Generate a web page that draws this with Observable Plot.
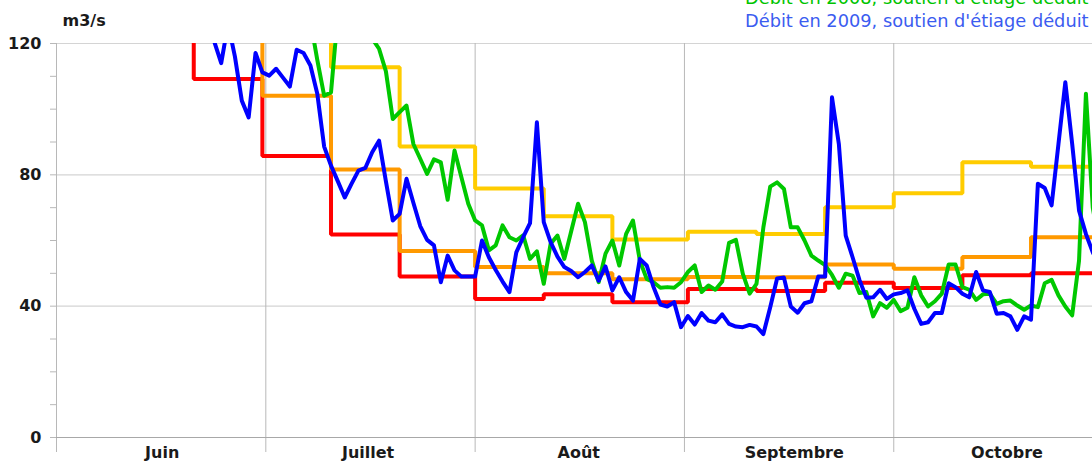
<!DOCTYPE html>
<html>
<head>
<meta charset="utf-8">
<script src="https://cdn.jsdelivr.net/npm/d3@7"></script>
<script src="https://cdn.jsdelivr.net/npm/@observablehq/plot@0.6"></script>
<style>
  html, body { margin: 0; padding: 0; background: #fff; }
  #wrap { position: relative; width: 1092px; height: 467px; overflow: hidden; }
  #chart { position: absolute; left: 0; top: 0; width: 1106px; }
  #chart svg { max-width: none !important; }
  #legend { position: absolute; left: 745px; top: -14px; font-family: "DejaVu Sans", sans-serif; font-size: 17.8px; line-height: 23px; white-space: nowrap; }
</style>
</head>
<body>
<div id="wrap">
  <div id="chart"></div>
  <div id="legend"></div>
</div>
<script>
// ---- Data (days counted from 1 June; x axis is one summer season) ----
const months = ["Juin", "Juillet", "Août", "Septembre", "Octobre"];
const monthStartDays = [0, 30.5, 61, 91.5, 122, 152.5];
const monthLabelDays = [15.4, 45.4, 76.1, 107.5, 138.5];
const yTickValues = [0, 40, 80, 120];

// ten-day periods (décades) start days
const decadeStartDays = [0, 10, 20, 30, 40, 50, 61, 71, 81, 92, 102, 112, 122, 132, 142, 153];
const redStep    = [160, 135, 109.2, 85.7, 61.8, 49.0, 42.2, 43.6, 41.2, 45.2, 44.6, 47.1, 45.5, 49.4, 50.0];
const orangeStep = [175, 150, 130, 104.1, 81.6, 56.8, 51.9, 50.0, 48.2, 48.9, 48.8, 52.7, 51.4, 55.0, 61.0];
const yellowStep = [190, 170, 150, 135, 112.8, 88.6, 75.8, 67.4, 60.3, 62.7, 62.0, 70.1, 74.4, 83.8, 82.5];

const green2008Start = 36;
const green2008 = [135, 127, 115, 104.1, 105.1, 129, 140, 138, 132, 126,
  121.5, 118.4, 111.5, 97.0, 99.1, 101.1, 89.4, 84.9, 80.3, 84.7,
  83.8, 72.4, 87.4, 79.3, 71.2, 66.1, 64.6, 57.0, 58.5, 64.6,
  61.0, 60.0, 61.6, 54.4, 56.7, 46.8, 59.0, 61.5, 54.4, 62.8,
  71.2, 65.6, 53.9, 47.3, 56.0, 60.0, 52.4, 62.0, 66.1, 53.9,
  48.3, 47.3, 45.6, 45.8, 45.6, 47.3, 50.4, 52.4, 44.3, 46.3,
  45.0, 47.5, 59.3, 60.2, 49.9, 43.8, 46.8, 64.0, 76.4, 77.7,
  75.7, 64.0, 64.0, 60.0, 55.4, 53.9, 52.5, 49.5, 45.6, 49.9,
  49.3, 44.0, 44.3, 36.9, 40.9, 39.5, 41.9, 38.5, 39.5, 48.8,
  43.3, 39.9, 41.5, 43.8, 52.7, 52.7, 45.8, 45.0, 41.9, 43.6,
  43.8, 40.7, 41.5, 41.7, 40.2, 38.9, 40.2, 39.7, 47.0, 48.0,
  43.3, 39.9, 37.2, 53.9, 104.7, 70, 58];

const blue2009Start = 21;
const blue2009 = [132, 125, 120.5, 114.0, 126, 116, 102.6, 97.5, 117.1, 111.2,
  110.2, 112.3, 109.6, 106.9, 118.1, 117.1, 113.3, 104.7, 88.6, 82.8,
  78.0, 73.1, 77.3, 81.3, 82.1, 86.9, 90.4, 78.0, 66.1, 68.1,
  78.8, 71.5, 64.4, 60.2, 58.5, 47.3, 55.4, 50.9, 49.0, 49.0,
  49.0, 60.0, 54.9, 51.0, 47.5, 44.3, 56.4, 61.0, 65.3, 96.0,
  65.6, 59.5, 55.1, 51.9, 50.7, 48.8, 50.4, 52.4, 47.8, 52.1,
  44.8, 48.8, 44.3, 41.7, 54.4, 52.4, 45.8, 40.5, 39.9, 41.2,
  33.6, 37.0, 34.4, 37.9, 35.6, 35.1, 37.5, 34.6, 33.8, 33.6,
  34.3, 33.8, 31.5, 39.7, 48.4, 48.7, 39.9, 38.0, 40.9, 41.5,
  49.0, 49.0, 103.6, 89.4, 61.5, 54.9, 48.0, 42.6, 42.7, 45.0,
  42.2, 43.6, 44.0, 44.8, 39.2, 34.6, 35.1, 37.9, 37.9, 47.0,
  45.8, 43.8, 42.7, 50.4, 44.8, 44.3, 37.7, 37.9, 36.9, 32.8,
  36.9, 35.9, 77.3, 76.0, 70.7, 89.4, 108.2, 89.4, 69.1, 62.0,
  56.4, 52];

const legendItems = [
  {label: "Débit en 2008, soutien d'étiage déduit", color: "#00c400"},
  {label: "Débit en 2009, soutien d'étiage déduit", color: "#3b5cf0"}
];

// ---- Build tables ----
function stepTable(values) {
  const rows = values.map((v, i) => ({day: decadeStartDays[i], v}));
  rows.push({day: decadeStartDays[values.length], v: values[values.length - 1]});
  return rows;
}
function dailyTable(start, values) {
  return values.map((v, i) => ({day: start + i, v}));
}

const steps = [
  {data: stepTable(redStep), color: "#ff0000"},
  {data: stepTable(orangeStep), color: "#ff9900"},
  {data: stepTable(yellowStep), color: "#ffcc00"}
];

const font = "DejaVu Sans";
const plot = Plot.plot({
  width: 1106,
  height: 467,
  marginLeft: 56,
  marginRight: 0,
  marginTop: 43,
  marginBottom: 30,
  style: {fontFamily: font, background: "#fff", maxWidth: "none"},
  x: {domain: [0, 153]},
  y: {domain: [0, 120]},
  marks: [
    Plot.ruleY([40, 80, 120], {stroke: "#d4d4d4", strokeWidth: 1.2}),
    Plot.axisY(d3.range(0, 121, 10), {tickSize: 6, text: null, stroke: "#b8b8b8", label: null}),
    Plot.axisY(yTickValues, {tickSize: 0, tickPadding: 15, fontSize: 16, fontWeight: "bold", fill: "#1a1a1a", label: null}),
    Plot.ruleX(monthStartDays, {y1: 0, y2: 120, stroke: "#b8b8b8", strokeWidth: 1}),
    Plot.axisX(monthStartDays, {tickSize: 15, text: null, stroke: "#b8b8b8", label: null}),
    Plot.ruleY([0], {stroke: "#a8a8a8", strokeWidth: 1.2}),
    Plot.axisX(monthLabelDays, {tickSize: 0, tickPadding: 9, tickFormat: (d, i) => months[i], fontSize: 16, fontWeight: "bold", fill: "#1a1a1a", label: null}),
    ...steps.map(s => Plot.line(s.data, {x: "day", y: "v", curve: "step-after", stroke: s.color, strokeWidth: 4, strokeLinejoin: "miter", clip: true})),
    Plot.line(dailyTable(green2008Start, green2008), {x: "day", y: "v", stroke: "#00c800", strokeWidth: 4, clip: true}),
    Plot.line(dailyTable(blue2009Start, blue2009), {x: "day", y: "v", stroke: "#0000ff", strokeWidth: 4, clip: true}),
    Plot.text(["m3/s"], {frameAnchor: "top-left", dx: 6, dy: -18, lineAnchor: "bottom", textAnchor: "start", fontSize: 16, fontWeight: "bold", fill: "#1a1a1a"})
  ]
});
plot.style.maxWidth = "none";
document.getElementById("chart").appendChild(plot);

const legend = document.getElementById("legend");
for (const item of legendItems) {
  const div = document.createElement("div");
  div.textContent = item.label;
  div.style.color = item.color;
  legend.appendChild(div);
}
</script>
</body>
</html>
